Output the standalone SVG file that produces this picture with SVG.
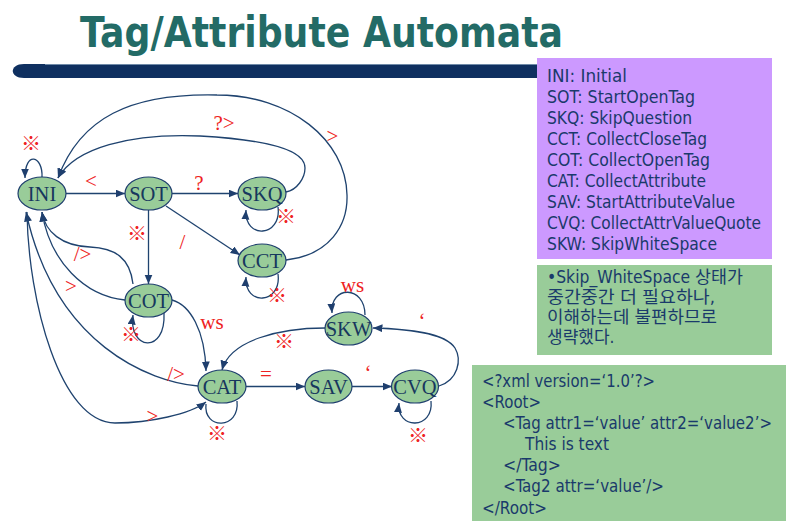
<svg xmlns="http://www.w3.org/2000/svg" width="790" height="521" viewBox="0 0 790 521">
  <style>
    .title { font-family: "DejaVu Sans", "Liberation Sans", sans-serif; font-weight: bold; font-size: 43px; fill: #236b66; }
    .node ellipse { fill: #99cc99; stroke: #1f3f6e; stroke-width: 1.2; }
    .node text { font-family: "Liberation Serif", "Times New Roman", serif; font-size: 20.5px; fill: #17375e; text-anchor: middle; }
    .edge { fill: none; stroke: #1f436f; stroke-width: 1.3; marker-end: url(#arrow); }
    .plain { fill: none; stroke: #1f436f; stroke-width: 1.3; }
    .lbl { font-family: "Liberation Serif", "Times New Roman", serif; font-size: 21px; fill: #ee2222; text-anchor: middle; }
    .mark { font-family: "Noto Sans CJK SC", "Noto Sans CJK KR", sans-serif; font-size: 20px; fill: #ee2222; text-anchor: middle; }
    .box text { font-family: "DejaVu Sans Condensed", "DejaVu Sans", "Noto Sans CJK KR", sans-serif; font-stretch: condensed; font-size: 17px; fill: #1a3a6b; }
  </style>
  <defs>
    <marker id="arrow" markerUnits="userSpaceOnUse" markerWidth="11" markerHeight="9" refX="9.5" refY="4" orient="auto">
      <path d="M0,0 L9.5,4 L0,8 z" fill="#1f3f6e"/>
    </marker>
  </defs>

  <rect width="790" height="521" fill="#ffffff"/>

  <!-- heading and rule -->
  <text class="title" x="80" y="47" textLength="483" lengthAdjust="spacingAndGlyphs">Tag/Attribute Automata</text>
  <path d="M24,64 L540,64 L540,78 L24,78 C9,78 9,64 24,64 z" fill="#0f3060"/>
  <line x1="45" y1="64.5" x2="540" y2="64.5" stroke="#6f8aa8" stroke-width="1"/>

  <!-- state legend -->
  <g id="legend" class="box">
    <rect x="537" y="58" width="235" height="201" fill="#cc99ff"/>
    <text x="547" y="82" textLength="80" lengthAdjust="spacingAndGlyphs">INI: Initial</text>
    <text x="547" y="103" textLength="148" lengthAdjust="spacingAndGlyphs">SOT: StartOpenTag</text>
    <text x="547" y="124" textLength="145" lengthAdjust="spacingAndGlyphs">SKQ: SkipQuestion</text>
    <text x="547" y="145" textLength="160" lengthAdjust="spacingAndGlyphs">CCT: CollectCloseTag</text>
    <text x="547" y="166" textLength="163" lengthAdjust="spacingAndGlyphs">COT: CollectOpenTag</text>
    <text x="547" y="187" textLength="159" lengthAdjust="spacingAndGlyphs">CAT: CollectAttribute</text>
    <text x="547" y="208" textLength="188" lengthAdjust="spacingAndGlyphs">SAV: StartAttributeValue</text>
    <text x="547" y="229" textLength="214" lengthAdjust="spacingAndGlyphs">CVQ: CollectAttrValueQuote</text>
    <text x="547" y="250" textLength="170" lengthAdjust="spacingAndGlyphs">SKW: SkipWhiteSpace</text>
  </g>

  <!-- note -->
  <g id="note" class="box">
    <rect x="537" y="265" width="235" height="90" fill="#99cc99"/>
    <text x="547" y="283" textLength="196" lengthAdjust="spacingAndGlyphs">•Skip_WhiteSpace 상태가</text>
    <text x="547" y="303" textLength="168" lengthAdjust="spacingAndGlyphs">중간중간 더 필요하나,</text>
    <text x="547" y="323" textLength="170" lengthAdjust="spacingAndGlyphs">이해하는데 불편하므로</text>
    <text x="547" y="343">생략했다.</text>
  </g>

  <!-- sample document -->
  <g id="sample" class="box">
    <rect x="472" y="365" width="314" height="156" fill="#99cc99"/>
    <text x="482" y="387" textLength="173" lengthAdjust="spacingAndGlyphs">&lt;?xml version=‘1.0’?&gt;</text>
    <text x="482" y="408" textLength="59" lengthAdjust="spacingAndGlyphs">&lt;Root&gt;</text>
    <text x="503" y="429" textLength="269" lengthAdjust="spacingAndGlyphs">&lt;Tag attr1=‘value’ attr2=‘value2’&gt;</text>
    <text x="525" y="450" textLength="84" lengthAdjust="spacingAndGlyphs">This is text</text>
    <text x="503" y="471" textLength="58" lengthAdjust="spacingAndGlyphs">&lt;/Tag&gt;</text>
    <text x="503" y="492" textLength="161" lengthAdjust="spacingAndGlyphs">&lt;Tag2 attr=‘value’/&gt;</text>
    <text x="482" y="514" textLength="65" lengthAdjust="spacingAndGlyphs">&lt;/Root&gt;</text>
  </g>

  <!-- transitions -->
  <g id="connectors">
    <line class="edge" x1="66" y1="193.5" x2="125" y2="193.5"/>
    <line class="edge" x1="172" y1="193.5" x2="238" y2="193.5"/>
    <line class="edge" x1="166" y1="206" x2="240" y2="255"/>
    <line class="edge" x1="148.5" y1="210" x2="148.5" y2="284"/>
    <path class="edge" d="M42,177 C43,156 25,150 25,178"/>
    <path class="edge" d="M286,192 C297,190 305,178 305,168 C305,150 270,140 200,136 C130,133 75,148 58,178"/>
    <path class="edge" d="M286,260 C330,255 348,225 347,195 C346,140 290,95 217,95 C130,93 80,118 58,178"/>
    <path class="edge" d="M278,207 C282,237 244,240 246,210"/>
    <path class="edge" d="M278,274 C282,304 244,307 246,277"/>
    <path class="edge" d="M133,284 C130,258 115,248 90,247 C62,246 45,232 42,212"/>
    <path class="edge" d="M125,300 C85,296 50,262 42,212"/>
    <path class="edge" d="M198,386 C150,382 55,345 26,212"/>
    <path class="edge" d="M27,212 C28,300 60,423 115,423 C150,423 190,414 206,402"/>
    <path class="edge" d="M164,313 C166,355 128,350 133,315"/>
    <path class="edge" d="M172,300 C190,305 205,330 206,371"/>
    <path class="plain" d="M237,401 C240,430 203,430 206,404"/>
    <path class="edge" d="M325,328 C280,328 230,340 222,370"/>
    <path class="edge" d="M365,315 C365,285 330,285 332,313"/>
    <line class="edge" x1="246" y1="386.5" x2="305" y2="386.5"/>
    <line class="edge" x1="352" y1="386.5" x2="392" y2="386.5"/>
    <path class="edge" d="M439,386 C458,380 462,360 455,348 C445,333 410,329 373,328"/>
    <path class="edge" d="M431,401 C434,430 396,430 399,403"/>
  </g>

  <!-- transition labels -->
  <g id="labels">
    <text class="lbl" x="91" y="188">&lt;</text>
    <text class="lbl" x="199" y="190">?</text>
    <text class="lbl" x="182.5" y="249">/</text>
    <text class="lbl" x="224" y="130">?&gt;</text>
    <text class="lbl" x="332.5" y="143">&gt;</text>
    <text class="lbl" x="82.5" y="261">/&gt;</text>
    <text class="lbl" x="71" y="293">&gt;</text>
    <text class="lbl" x="212" y="329">ws</text>
    <text class="lbl" x="176" y="381">/&gt;</text>
    <text class="lbl" x="152.5" y="423">&gt;</text>
    <text class="lbl" x="266" y="381">=</text>
    <text class="lbl" x="368" y="380">‘</text>
    <text class="lbl" x="422" y="328">‘</text>
    <text class="lbl" x="352.5" y="292">ws</text>
    <text class="mark" x="31" y="150.5">※</text>
    <text class="mark" x="137" y="240.5">※</text>
    <text class="mark" x="286" y="223.5">※</text>
    <text class="mark" x="277" y="302.5">※</text>
    <text class="mark" x="131" y="341.5">※</text>
    <text class="mark" x="217" y="440.5">※</text>
    <text class="mark" x="284" y="348.5">※</text>
    <text class="mark" x="418" y="442.5">※</text>
  </g>

  <!-- states -->
  <g id="INI" class="node"><ellipse cx="42" cy="193.5" rx="24" ry="16.5"/><text x="42" y="200.5">INI</text></g>
  <g id="SOT" class="node"><ellipse cx="148.5" cy="193.5" rx="23.5" ry="16.5"/><text x="148.5" y="200.5">SOT</text></g>
  <g id="SKQ" class="node"><ellipse cx="262" cy="193.5" rx="24" ry="16.5"/><text x="262" y="200.5">SKQ</text></g>
  <g id="CCT" class="node"><ellipse cx="262" cy="260.5" rx="24" ry="16.5"/><text x="262" y="267.5">CCT</text></g>
  <g id="COT" class="node"><ellipse cx="148.5" cy="300.5" rx="23.5" ry="16.5"/><text x="148.5" y="307.5">COT</text></g>
  <g id="SKW" class="node"><ellipse cx="348.5" cy="328.5" rx="23.5" ry="16.5"/><text x="348.5" y="335.5">SKW</text></g>
  <g id="CAT" class="node"><ellipse cx="222" cy="386.5" rx="24" ry="16.5"/><text x="222" y="393.5">CAT</text></g>
  <g id="SAV" class="node"><ellipse cx="328.5" cy="386.5" rx="23.5" ry="16.5"/><text x="328.5" y="393.5">SAV</text></g>
  <g id="CVQ" class="node"><ellipse cx="415" cy="386.5" rx="23.5" ry="16.5"/><text x="415" y="393.5">CVQ</text></g>
</svg>
